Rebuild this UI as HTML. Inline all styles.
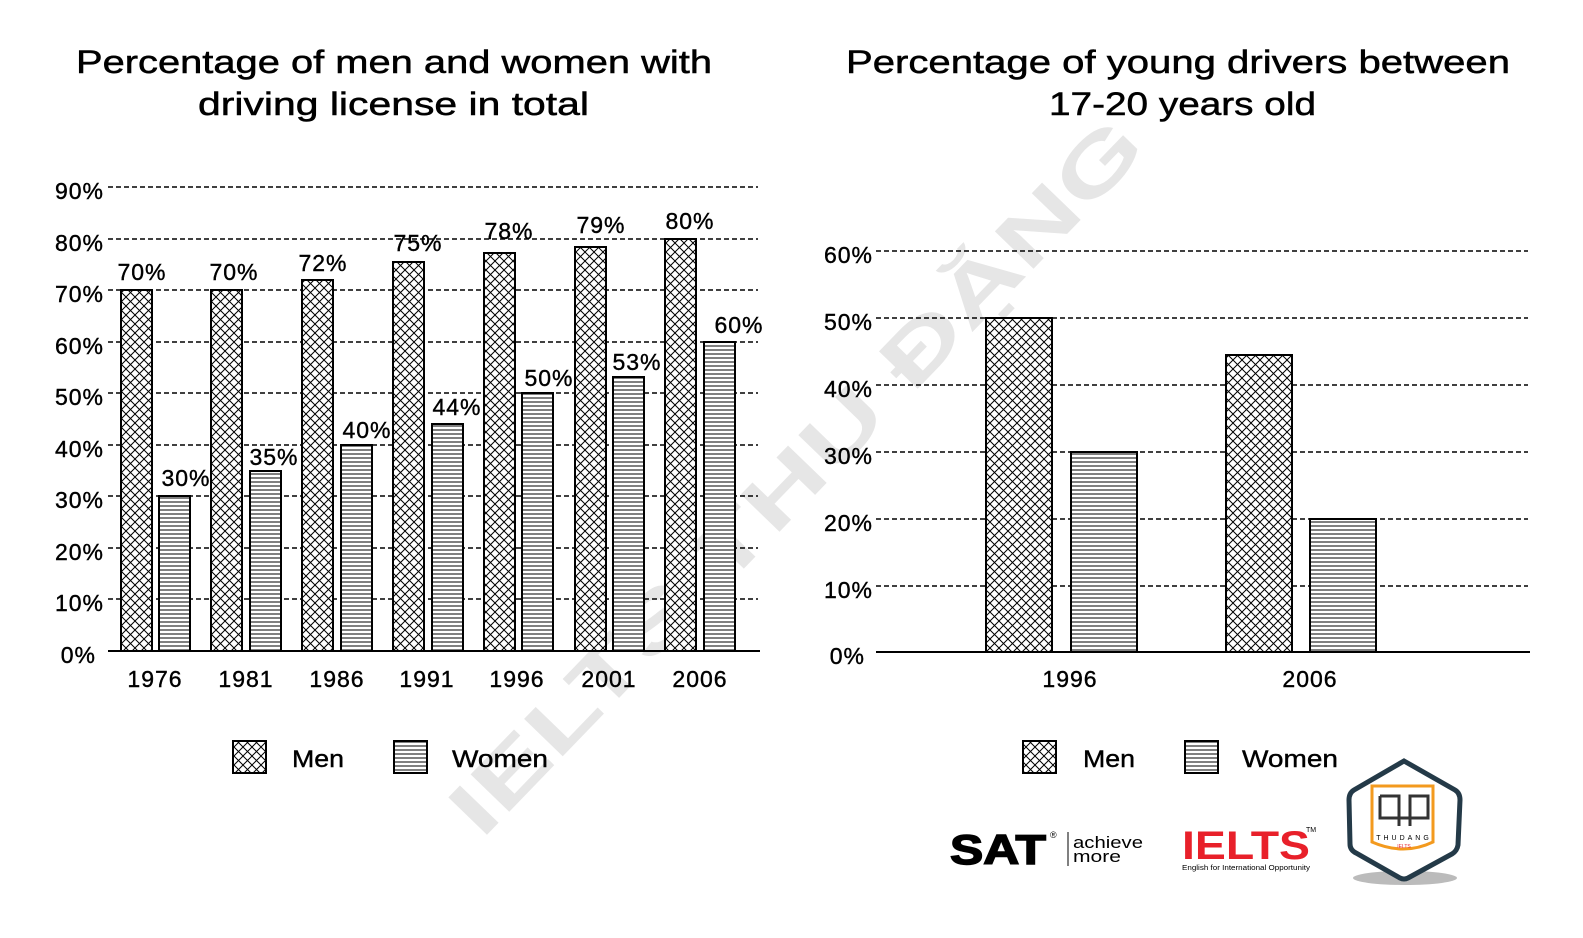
<!DOCTYPE html>
<html><head><meta charset="utf-8"><style>
html,body{margin:0;padding:0;background:#fff;}
svg{display:block;font-family:"Liberation Sans",sans-serif;}
</style></head><body>
<svg width="1583" height="938" viewBox="0 0 1583 938" xmlns="http://www.w3.org/2000/svg">
<defs>
<pattern id="x" width="9" height="9" patternUnits="userSpaceOnUse">
<rect width="9" height="9" fill="#fff"/>
<path d="M0 0L9 9M9 0L0 9" stroke="#000" stroke-width="1"/>
</pattern>
<pattern id="h" width="4" height="4" patternUnits="userSpaceOnUse">
<rect width="4" height="4" fill="#fff"/>
<path d="M0 2H4" stroke="#000" stroke-width="1"/>
</pattern>
</defs>
<!-- watermark -->
<text x="0" y="0" font-size="78" font-weight="bold" fill="#e6e6e6" text-anchor="middle" textLength="960" lengthAdjust="spacingAndGlyphs" transform="translate(815,495) rotate(-46)">IELTS THU ĐẶNG</text>
<g font-size="32" fill="#000" stroke="#000" stroke-width="0.5" lengthAdjust="spacingAndGlyphs">
<text x="76" y="73" textLength="636" lengthAdjust="spacingAndGlyphs">Percentage of men and women with</text>
<text x="198" y="115" textLength="391" lengthAdjust="spacingAndGlyphs">driving license in total</text>
<text x="846" y="73" textLength="664" lengthAdjust="spacingAndGlyphs">Percentage of young drivers between</text>
<text x="1049" y="115" textLength="267" lengthAdjust="spacingAndGlyphs">17-20 years old</text>
</g>
<!-- left grid -->
<g stroke="#000" stroke-width="1.5" stroke-dasharray="5,3">
<line x1="108" y1="187" x2="758" y2="187"/><line x1="108" y1="239" x2="758" y2="239"/>
<line x1="108" y1="290" x2="758" y2="290"/><line x1="108" y1="342" x2="758" y2="342"/>
<line x1="108" y1="393" x2="758" y2="393"/><line x1="108" y1="445" x2="758" y2="445"/>
<line x1="108" y1="496" x2="758" y2="496"/><line x1="108" y1="548" x2="758" y2="548"/>
<line x1="108" y1="599" x2="758" y2="599"/>
</g>
<g font-size="23" text-anchor="end" stroke="#000" stroke-width="0.4" letter-spacing="1">
<text x="104" y="199">90%</text><text x="104" y="251">80%</text><text x="104" y="302">70%</text>
<text x="104" y="354">60%</text><text x="104" y="405">50%</text><text x="104" y="457">40%</text>
<text x="104" y="508">30%</text><text x="104" y="560">20%</text><text x="104" y="611">10%</text>
<text x="96" y="663">0%</text>
</g>
<g stroke="#000" stroke-width="2">
<rect x="121" y="290" width="31" height="361" fill="url(#x)"/><rect x="159" y="496" width="31" height="155" fill="url(#h)"/>
<rect x="211" y="290" width="31" height="361" fill="url(#x)"/><rect x="250" y="471" width="31" height="180" fill="url(#h)"/>
<rect x="302" y="280" width="31" height="371" fill="url(#x)"/><rect x="341" y="445" width="31" height="206" fill="url(#h)"/>
<rect x="393" y="262" width="31" height="389" fill="url(#x)"/><rect x="432" y="424" width="31" height="227" fill="url(#h)"/>
<rect x="484" y="253" width="31" height="398" fill="url(#x)"/><rect x="522" y="393" width="31" height="258" fill="url(#h)"/>
<rect x="575" y="247" width="31" height="404" fill="url(#x)"/><rect x="613" y="377" width="31" height="274" fill="url(#h)"/>
<rect x="665" y="239" width="31" height="412" fill="url(#x)"/><rect x="704" y="342" width="31" height="309" fill="url(#h)"/>
</g>
<line x1="108" y1="651" x2="760" y2="651" stroke="#000" stroke-width="2"/>
<g font-size="23" text-anchor="middle" stroke="#000" stroke-width="0.4" letter-spacing="1">
<text x="142" y="280">70%</text><text x="186" y="486">30%</text>
<text x="234" y="280">70%</text><text x="274" y="465">35%</text>
<text x="323" y="271">72%</text><text x="367" y="438">40%</text>
<text x="418" y="251">75%</text><text x="457" y="415">44%</text>
<text x="509" y="239">78%</text><text x="549" y="386">50%</text>
<text x="601" y="233">79%</text><text x="637" y="370">53%</text>
<text x="690" y="229">80%</text><text x="739" y="333">60%</text>
<text x="155" y="687">1976</text><text x="246" y="687">1981</text><text x="337" y="687">1986</text>
<text x="427" y="687">1991</text><text x="517" y="687">1996</text><text x="609" y="687">2001</text>
<text x="700" y="687">2006</text>
</g>
<!-- left legend -->
<rect x="233" y="741" width="33" height="32" fill="url(#x)" stroke="#000" stroke-width="2"/>
<text x="292" y="767" font-size="24" stroke="#000" stroke-width="0.4" textLength="52" lengthAdjust="spacingAndGlyphs">Men</text>
<rect x="394" y="741" width="33" height="32" fill="url(#h)" stroke="#000" stroke-width="2"/>
<text x="452" y="767" font-size="24" stroke="#000" stroke-width="0.4" textLength="96" lengthAdjust="spacingAndGlyphs">Women</text>
<!-- right grid -->
<g stroke="#000" stroke-width="1.5" stroke-dasharray="5,3">
<line x1="876" y1="251" x2="1528" y2="251"/><line x1="876" y1="318" x2="1528" y2="318"/>
<line x1="876" y1="385" x2="1528" y2="385"/><line x1="876" y1="452" x2="1528" y2="452"/>
<line x1="876" y1="519" x2="1528" y2="519"/><line x1="876" y1="586" x2="1528" y2="586"/>
</g>
<g font-size="23" text-anchor="end" stroke="#000" stroke-width="0.4" letter-spacing="1">
<text x="873" y="263">60%</text><text x="873" y="330">50%</text><text x="873" y="397">40%</text>
<text x="873" y="464">30%</text><text x="873" y="531">20%</text><text x="873" y="598">10%</text>
<text x="865" y="664">0%</text>
</g>
<g stroke="#000" stroke-width="2">
<rect x="986" y="318" width="66" height="334" fill="url(#x)"/><rect x="1071" y="452" width="66" height="200" fill="url(#h)"/>
<rect x="1226" y="355" width="66" height="297" fill="url(#x)"/><rect x="1310" y="519" width="66" height="133" fill="url(#h)"/>
</g>
<line x1="876" y1="652" x2="1530" y2="652" stroke="#000" stroke-width="2"/>
<g font-size="23" text-anchor="middle" stroke="#000" stroke-width="0.4" letter-spacing="1">
<text x="1070" y="687">1996</text><text x="1310" y="687">2006</text>
</g>
<rect x="1023" y="741" width="33" height="32" fill="url(#x)" stroke="#000" stroke-width="2"/>
<text x="1083" y="767" font-size="24" stroke="#000" stroke-width="0.4" textLength="52" lengthAdjust="spacingAndGlyphs">Men</text>
<rect x="1185" y="741" width="33" height="32" fill="url(#h)" stroke="#000" stroke-width="2"/>
<text x="1242" y="767" font-size="24" stroke="#000" stroke-width="0.4" textLength="96" lengthAdjust="spacingAndGlyphs">Women</text>
<!-- logos -->
<text x="950" y="864" font-size="42" font-weight="bold" stroke="#000" stroke-width="1.5" textLength="96" lengthAdjust="spacingAndGlyphs">SAT</text>
<text x="1050" y="838" font-size="9">®</text>
<line x1="1068" y1="832" x2="1068" y2="866" stroke="#000" stroke-width="1"/>
<text x="1073" y="848" font-size="17" textLength="70" lengthAdjust="spacingAndGlyphs">achieve</text>
<text x="1073" y="862" font-size="17" textLength="48" lengthAdjust="spacingAndGlyphs">more</text>
<text x="1182" y="859" font-size="40" font-weight="bold" fill="#e8202a" textLength="128" lengthAdjust="spacingAndGlyphs">IELTS</text>
<text x="1306" y="832" font-size="7">TM</text>
<text x="1182" y="870" font-size="7" textLength="128" lengthAdjust="spacingAndGlyphs">English for International Opportunity</text>
<ellipse cx="1405" cy="878" rx="52" ry="7" fill="#bbb"/>
<path d="M1404 761 L1455 790 Q1460 793 1460 800 L1458 845 Q1457 851 1452 854 L1408 878 Q1404 880 1400 878 L1356 853 Q1350 850 1350 844 L1349 800 Q1349 793 1354 790 Z" fill="#fff" stroke="#243a48" stroke-width="5"/>
<path d="M1372 786 H1433 V842 Q1404 856 1372 842 Z" fill="none" stroke="#f39a1e" stroke-width="3"/>
<path d="M1380 796 H1399 V826 M1410 826 V796 H1428 V818 H1380 V796" fill="none" stroke="#333" stroke-width="3"/>
<text x="1404" y="840" font-size="7" text-anchor="middle" letter-spacing="3">THUDANG</text>
<text x="1404" y="848" font-size="5" text-anchor="middle" fill="#e8202a">IELTS</text>
</svg>
</body></html>
